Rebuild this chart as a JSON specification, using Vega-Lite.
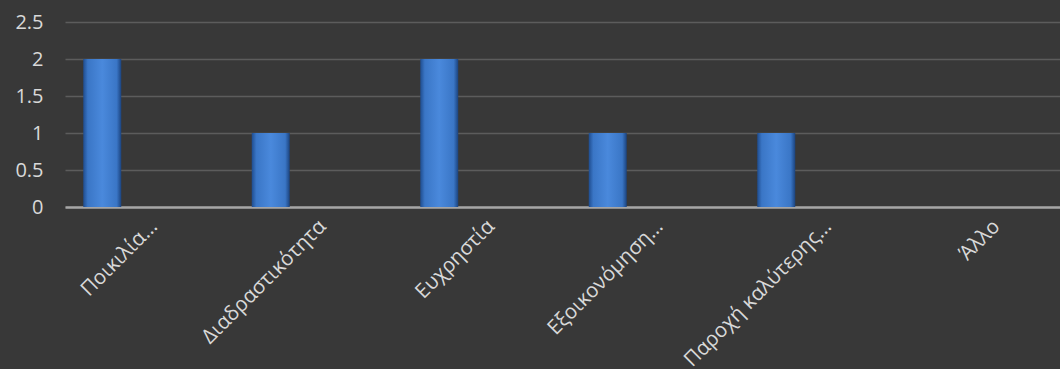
{
  "$schema": "https://vega.github.io/schema/vega-lite/v6.json",
  "autosize": "none",
  "width": 995,
  "height": 185,
  "padding": {"left": 65, "top": 22, "right": 0, "bottom": 162},
  "background": "#383838",
  "data": {
    "values": [
      {"category": "Ποικιλία…", "value": 2},
      {"category": "Διαδραστικότητα", "value": 1},
      {"category": "Ευχρηστία", "value": 2},
      {"category": "Εξοικονόμηση…", "value": 1},
      {"category": "Παροχή καλύτερης…", "value": 1},
      {"category": "Άλλο", "value": 0}
    ]
  },
  "mark": {
    "type": "bar",
    "width": 38,
    "xOffset": -47,
    "color": {
      "gradient": "linear",
      "x1": 0, "y1": 0, "x2": 1, "y2": 0,
      "stops": [
        {"offset": 0, "color": "#1f4d8f"},
        {"offset": 0.12, "color": "#3a76c6"},
        {"offset": 0.5, "color": "#4a89dc"},
        {"offset": 0.88, "color": "#3a76c6"},
        {"offset": 1, "color": "#1b437e"}
      ]
    }
  },
  "encoding": {
    "x": {
      "field": "category",
      "type": "nominal",
      "sort": null,
      "scale": {"range": [0, 1011], "paddingInner": 0, "paddingOuter": 0},
      "axis": {
        "title": null,
        "labelAngle": -45,
        "labelAlign": "right",
        "labelBaseline": "middle",
        "labelPadding": 16,
        "labelOffset": 5,
        "labelFont": "Open Sans",
        "labelFontSize": 20.5,
        "labelColor": "#d9d9d9",
        "labelLimit": 300,
        "ticks": false,
        "grid": false,
        "domainColor": "#a6a6a6",
        "domainWidth": 2.5
      }
    },
    "y": {
      "field": "value",
      "type": "quantitative",
      "scale": {"domain": [0, 2.5], "nice": false},
      "axis": {
        "title": null,
        "values": [0, 0.5, 1, 1.5, 2, 2.5],
        "format": "~g",
        "labelFont": "Open Sans",
        "labelFontSize": 20,
        "labelColor": "#d9d9d9",
        "labelPadding": 22,
        "ticks": false,
        "domain": false,
        "gridColor": "#5c5c5c",
        "gridWidth": 1.5
      }
    }
  },
  "config": {
    "view": {"stroke": null}
  }
}
